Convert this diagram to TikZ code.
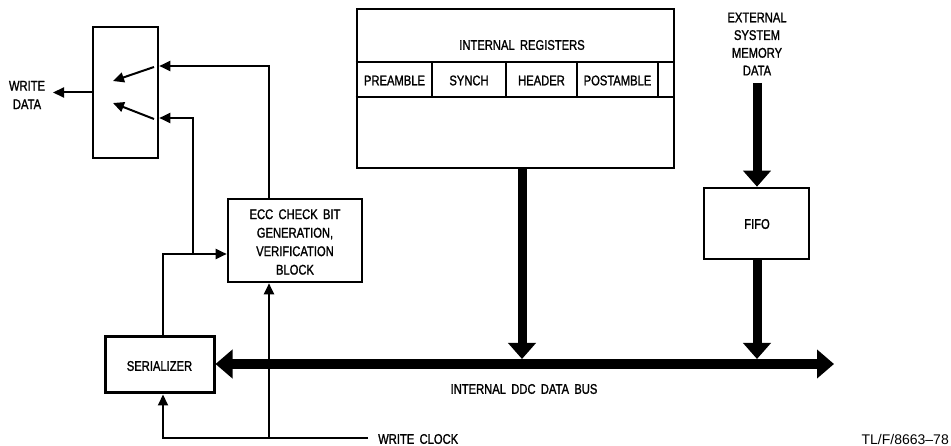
\documentclass[tikz,border=0pt]{standalone}
\usepackage{fontspec}
\setmainfont{Liberation Sans}
\newfontfamily\lblfont{Liberation Sans}[FakeStretch=0.8,FakeBold=1.3,WordSpace=1.7]
\usetikzlibrary{arrows.meta}
\begin{document}
\begin{tikzpicture}[x=1pt,y=-1pt,
  box/.style={draw, line width=2.6pt, inner sep=0pt},
  lbl/.style={font=\lblfont\fontsize{14pt}{18.5pt}\selectfont, align=center, inner sep=0pt},
  conn/.style={line width=2pt, -{Triangle[length=11pt,width=10pt]}},
  big/.style={line width=9pt, -{Triangle[length=16pt,width=27pt]}},
  bus/.style={line width=10pt, {Triangle[length=17pt,width=28pt]}-{Triangle[length=17pt,width=28pt]}}
]
\useasboundingbox (0,0) rectangle (951,446);

% blocks
\node[box, minimum width=65pt, minimum height=131pt] (sw) at (125.5,92.5) {};
\node[box, minimum width=134pt, minimum height=83pt] (ecc) at (295,240.5) {};
\node[lbl, anchor=center] (ecctxt) at (295,242) {ECC CHECK BIT\\GENERATION,\\VERIFICATION\\BLOCK};
\node[box, line width=3pt, minimum width=109pt, minimum height=56pt] (ser) at (159.5,365) {};
\node[lbl] (sertxt) at (159.5,366) {SERIALIZER};
\node[box, minimum width=317pt, minimum height=159pt] (reg) at (515.5,88.5) {};
\node[box, minimum width=105pt, minimum height=71pt] (fifo) at (756.5,223.5) {};
\node[lbl] (fifotxt) at (757,224) {FIFO};

% register internals
\coordinate (rowA) at (0,62);
\coordinate (rowB) at (0,97);
\draw[line width=2pt] (reg.west |- rowA) -- (reg.east |- rowA);
\draw[line width=2pt] (reg.west |- rowB) -- (reg.east |- rowB);
\foreach \xx in {432,506,577,658} {
  \draw[line width=1.8pt] (\xx,62) -- (\xx,97);
}
\node[lbl] (regtxt) at (522,45) {INTERNAL REGISTERS};
\node[lbl] (pre) at (394.5,80.5) {PREAMBLE};
\node[lbl] (syn) at (469,80.5) {SYNCH};
\node[lbl] (hdr) at (541.5,80.5) {HEADER};
\node[lbl] (post) at (617.5,80.5) {POSTAMBLE};

% switch internals
\coordinate (s1a) at (154,67);
\coordinate (s1b) at (113,81);
\coordinate (s2a) at (154,119);
\coordinate (s2b) at (113,103);
\draw[conn] (s1a) -- (s1b);
\draw[conn] (s2a) -- (s2b);

% write data
\coordinate (wdtip) at (53,92.5);
\draw[conn] (sw.west) -- (wdtip);
\node[lbl] (wdtxt) at (27,95) {WRITE\\DATA};

% connectors
\coordinate (cA) at (269,66);
\coordinate (cB) at (193,118);
\coordinate (cJ) at (193,254);
\coordinate (cS) at (163,254);
\coordinate (clk) at (368,438);
\coordinate (cL) at (163,438);
\coordinate (cM) at (269,438);
\draw[conn] (ecc.north -| cA) -- (cA) -- (cA -| sw.east);
\draw[conn] (ser.north -| cS) -- (cS) -- (cS -| ecc.west);
\draw[conn] (cJ) -- (cB) -- (cB -| sw.east);
\draw[conn] (clk) -- (cL) -- (cL |- ser.south);
\draw[conn] (cM) -- (cM |- ecc.south);
\node[lbl, anchor=west] (clktxt) at (378,439) {WRITE CLOCK};

% bus
\coordinate (busR) at (834,364);
\draw[bus] (ser.east |- busR) -- (busR);
\node[lbl] (bustxt) at (524,389) {INTERNAL DDC DATA BUS};

% thick arrows
\coordinate (regbus) at (522,359);
\coordinate (fifobus) at (757,359);
\coordinate (extsrc) at (757,83);
\draw[big] (reg.south -| regbus) -- (regbus);
\draw[big] (fifo.south -| fifobus) -- (fifobus);
\draw[big] (extsrc) -- (extsrc |- fifo.north);
\node[lbl, font=\lblfont\fontsize{14pt}{17.7pt}\selectfont] (exttxt) at (757,44) {EXTERNAL\\SYSTEM\\MEMORY\\DATA};

% figure code
\node[inner sep=0pt, anchor=east, font=\fontsize{14pt}{16pt}\selectfont] (code) at (949,439.5) {TL/F/8663{\textendash}78};
\end{tikzpicture}
\end{document}
